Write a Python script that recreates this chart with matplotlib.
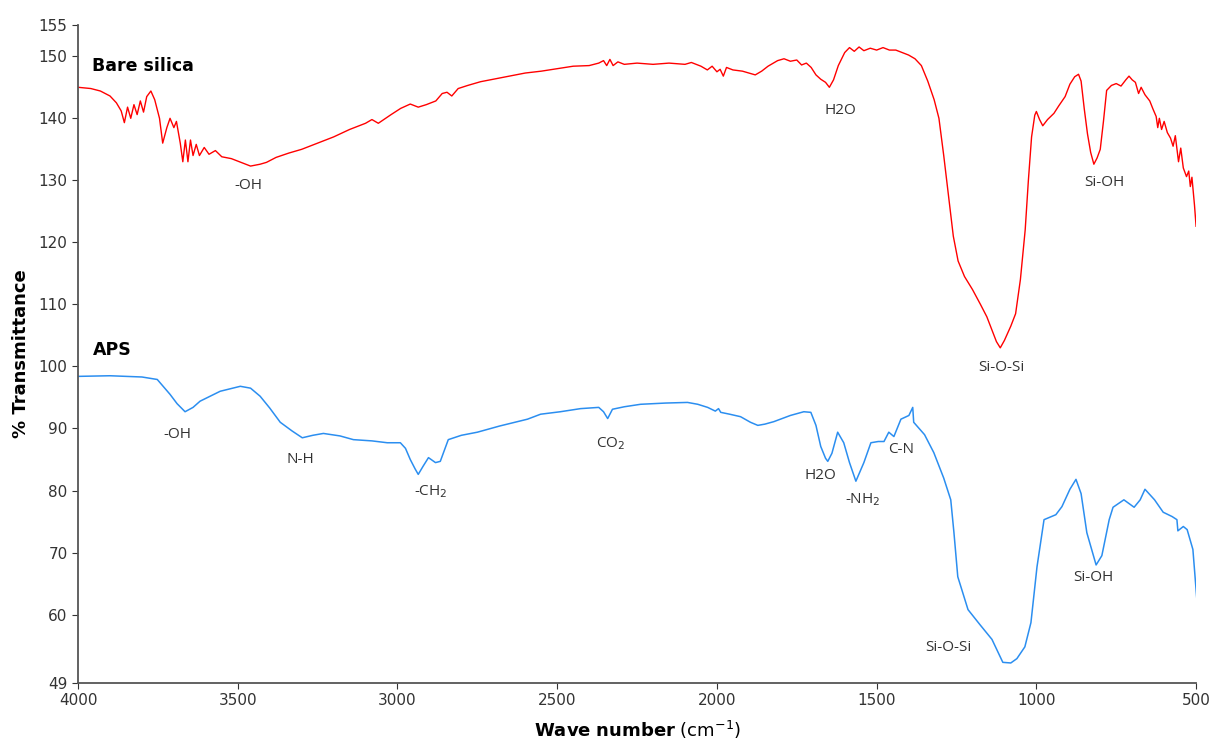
import numpy as np
import matplotlib
matplotlib.use("Agg")
import matplotlib.pyplot as plt

# Bare silica spectrum (wave number, % transmittance)
silica_wn = [4000, 3960, 3930, 3900, 3880, 3865, 3855, 3845, 3835, 3825, 3815, 3805, 3795, 3785, 3772,
             3760, 3745, 3735, 3722, 3712, 3700, 3692, 3680, 3672, 3664, 3656, 3648, 3640, 3630, 3620,
             3605, 3590, 3570, 3550, 3520, 3490, 3460, 3430, 3410, 3380, 3340, 3300, 3250, 3200, 3150,
             3100, 3080, 3060, 3020, 2990, 2960, 2935, 2910, 2880, 2860, 2845, 2830, 2810, 2780, 2740,
             2700, 2650, 2600, 2550, 2500, 2450, 2400, 2370, 2355, 2345, 2335, 2325, 2310, 2290, 2250,
             2200, 2150, 2100, 2080, 2050, 2030, 2015, 2000, 1990, 1980, 1970, 1950, 1920, 1900, 1880,
             1860, 1840, 1810, 1790, 1770, 1750, 1735, 1720, 1705, 1690, 1675, 1660, 1648, 1635, 1620,
             1600, 1585, 1570, 1555, 1540, 1520, 1500, 1480, 1460, 1440, 1420, 1400, 1380, 1360, 1340,
             1320, 1305, 1290, 1275, 1260, 1245, 1225, 1200, 1175, 1155, 1140, 1125, 1113, 1100, 1080,
             1065, 1050, 1035, 1025, 1015, 1005, 1000, 990, 980, 965, 945, 930, 910, 895, 880,
             868, 860, 850, 840, 830, 820, 810, 800, 790, 780, 765, 750, 735, 720, 710,
             700, 690, 680, 672, 660, 645, 635, 625, 620, 615, 608, 600, 590, 580, 572,
             565, 555, 548, 540, 530, 523, 518, 513, 505, 500]
silica_t = [145.0, 144.8, 144.4, 143.6, 142.5, 141.2, 139.3, 141.8, 140.0, 142.2, 140.6, 142.8, 141.0, 143.5, 144.4,
            143.0, 140.0, 136.0, 138.5, 140.0, 138.5, 139.5, 136.0, 133.0, 136.5, 133.0, 136.5, 134.0, 135.8, 134.0,
            135.3, 134.2, 134.8, 133.8, 133.5, 132.9, 132.3, 132.6, 132.9, 133.7, 134.4, 135.0, 136.0, 137.0, 138.2,
            139.2, 139.8, 139.2, 140.6, 141.6, 142.3, 141.8, 142.2, 142.8, 144.0, 144.2, 143.6, 144.8, 145.3, 145.9,
            146.3, 146.8, 147.3, 147.6, 148.0, 148.4, 148.5, 148.9, 149.3, 148.5, 149.5, 148.5, 149.1, 148.7, 148.9,
            148.7, 148.9, 148.7, 149.0, 148.4, 147.8, 148.4, 147.5, 147.9, 146.8, 148.2, 147.8, 147.6, 147.3, 147.0,
            147.6, 148.4, 149.3, 149.6, 149.2, 149.4, 148.6, 148.9, 148.2, 147.0, 146.3, 145.8, 145.0, 146.2, 148.5,
            150.6, 151.4, 150.8, 151.5, 150.9, 151.3, 151.0, 151.4, 151.0, 151.0, 150.6, 150.2, 149.6, 148.5, 146.0,
            143.0, 140.0, 134.0, 127.5, 121.0, 117.0, 114.5, 112.4, 110.0, 108.0, 106.0, 104.0, 103.0, 104.2, 106.5,
            108.5, 114.0, 122.0, 130.0, 137.0, 140.5, 141.1, 139.8, 138.8, 139.8, 140.8, 142.0, 143.5, 145.5, 146.7,
            147.1, 146.0, 141.5, 137.5, 134.5, 132.6, 133.6, 135.0, 139.5, 144.5, 145.3, 145.6, 145.2, 146.2, 146.8,
            146.2, 145.8, 144.0, 145.0, 143.8, 142.8, 141.5, 140.3, 138.5, 140.0, 138.2, 139.5, 137.7, 136.8, 135.5,
            137.2, 133.0, 135.2, 132.0, 130.6, 131.5, 129.0, 130.5, 126.0, 122.6]

# APS spectrum
aps_wn = [4000, 3900, 3800, 3752, 3712, 3690, 3665, 3640, 3618, 3555, 3492, 3460, 3430, 3400, 3367,
          3330, 3298, 3265, 3232, 3180, 3138, 3080, 3032, 2991, 2975, 2960, 2945, 2935, 2920, 2903,
          2881, 2866, 2841, 2800, 2750, 2680, 2593, 2552, 2490, 2427, 2370, 2355, 2342, 2327, 2290,
          2239, 2160, 2092, 2060, 2029, 2005, 1995, 1988, 1960, 1926, 1895, 1872, 1850, 1822, 1770,
          1728, 1706, 1690, 1675, 1660, 1653, 1640, 1622, 1603, 1585, 1565, 1540, 1518, 1495, 1477,
          1462, 1446, 1424, 1399, 1387, 1384, 1350, 1321, 1290, 1268, 1258, 1246, 1214, 1177, 1139,
          1105, 1080, 1061, 1036, 1017, 998, 976, 939, 920, 895, 876, 860, 842, 813, 795,
          772, 760, 726, 694, 675, 660, 630, 603, 575, 560, 557, 540, 528, 510, 498]
aps_t = [98.4, 98.5, 98.3, 97.9, 95.5, 94.0, 92.7, 93.4, 94.4, 96.0, 96.8, 96.5, 95.2, 93.3, 91.0,
         89.6, 88.5, 88.9, 89.2, 88.8, 88.2, 88.0, 87.7, 87.7, 86.8, 85.0, 83.5, 82.6, 83.9, 85.3,
         84.5, 84.7, 88.2, 88.9, 89.4, 90.4, 91.5, 92.3, 92.7, 93.2, 93.4, 92.7, 91.6, 93.1, 93.5,
         93.9, 94.1, 94.2, 93.9, 93.4, 92.8, 93.2, 92.6, 92.3, 91.9, 91.0, 90.5, 90.7, 91.1, 92.1,
         92.7, 92.6, 90.5, 87.1, 85.2, 84.7, 86.0, 89.4, 87.7, 84.5, 81.5, 84.5, 87.7, 87.9, 87.9,
         89.4, 88.7, 91.5, 92.1, 93.4, 91.0, 89.0, 86.1, 82.0, 78.5, 73.2, 66.1, 60.8, 58.4, 56.0,
         52.3, 52.2, 52.9, 54.8, 58.7, 67.7, 75.3, 76.1, 77.4, 80.2, 81.8, 79.5, 73.2, 68.0, 69.5,
         75.3, 77.3, 78.5, 77.3, 78.5, 80.2, 78.5, 76.5, 75.8, 75.3, 73.5, 74.2, 73.7, 70.5, 62.7]

silica_labels = [("-OH", 3467, 129.2), ("H2O", 1612, 141.3), ("Si-O-Si", 1111, 99.8), ("Si-OH", 788, 129.7)]
aps_labels = [("-OH", 3690, 89.0), ("N-H", 3304, 85.0), ("-CH$_2$", 2897, 79.8), ("CO$_2$", 2333, 87.6),
              ("H2O", 1675, 82.4), ("-NH$_2$", 1543, 78.5), ("C-N", 1424, 86.6),
              ("Si-O-Si", 1277, 54.7), ("Si-OH", 820, 66.0)]

y_ticks = [49, 60, 70, 80, 90, 100, 110, 120, 130, 140, 150, 155]
x_ticks = [4000, 3500, 3000, 2500, 2000, 1500, 1000, 500]

fig = plt.figure(figsize=(12.1, 7.43), dpi=100)
ax = fig.add_axes([0.0645, 0.081, 0.924, 0.885])

ax.plot(silica_wn, silica_t, color="#ff0000", lw=1.0)
ax.plot(aps_wn, aps_t, color="#2b8ef0", lw=1.1)

ax.set_xlim(4000, 500)
ax.set_ylim(49, 155)
ax.set_xticks(x_ticks)
ax.set_yticks(y_ticks)
ax.tick_params(labelsize=11, colors="#333333", length=4)

for side in ["top", "right"]:
    ax.spines[side].set_visible(False)
for side in ["left", "bottom"]:
    ax.spines[side].set_color("#555555")
    ax.spines[side].set_linewidth(1.3)

for txt, x, y in silica_labels + aps_labels:
    ax.text(x, y, txt, ha="center", va="center", fontsize=11, color="#333333",
            family="Open Sans")

ax.text(3956, 148.4, "Bare silica", fontsize=12.5, fontweight="bold", va="center", ha="left")
ax.text(3953, 102.6, "APS", fontsize=12.5, fontweight="bold", va="center", ha="left")

ax.set_ylabel("% Transmittance", fontsize=13, fontweight="bold", labelpad=6)
ax.set_xlabel(r"$\mathbf{Wave\ number}$ (cm$^{-1}$)", fontsize=13, labelpad=8)

fig.savefig("out.png", dpi=100)
